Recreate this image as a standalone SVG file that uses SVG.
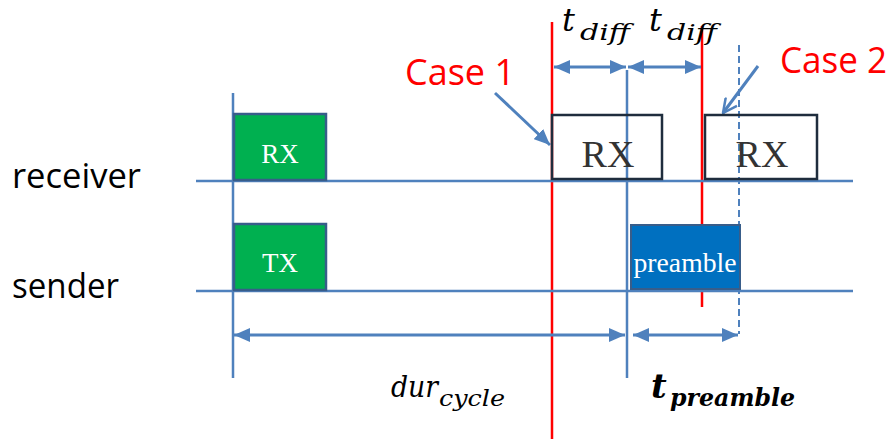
<svg xmlns="http://www.w3.org/2000/svg" width="894" height="439" viewBox="0 0 894 439">
  <style>
    .axis { stroke: #4F81BD; stroke-width: 2.5; fill: none; }
    .dash { stroke: #4F81BD; stroke-width: 2; stroke-dasharray: 7 4; fill: none; }
    .red { stroke: #FF0000; stroke-width: 2.5; fill: none; }
    .dim { stroke: #4F81BD; stroke-width: 3; fill: none; }
    .lbl { font-family: "Open Sans", "Liberation Sans", sans-serif; font-size: 35px; fill: #000; }
    .case { font-family: "Open Sans", "Liberation Sans", sans-serif; font-size: 37px; fill: #FF0000; }
    .math { font-family: "DejaVu Serif", "Liberation Serif", serif; font-style: italic; fill: #000; }
    .boxg { fill: #00B050; stroke: #385D8A; stroke-width: 2.5; }
    .boxw { fill: none; stroke: #1F2D3D; stroke-width: 2.5; }
    .boxb { fill: #0070C0; stroke: #385D8A; stroke-width: 2; }
    .tw { font-family: "Liberation Serif", serif; fill: #FFFFFF; text-anchor: middle; }
    .tk { font-family: "Liberation Serif", serif; fill: #333333; text-anchor: middle; font-size: 38px; }
  </style>
  <defs>
    <marker id="ah" viewBox="0 0 16 14" refX="16" refY="7" markerWidth="16" markerHeight="14" orient="auto-start-reverse" markerUnits="userSpaceOnUse">
      <path d="M0,0 L16,7 L0,14 z" fill="#4F81BD"/>
    </marker>
    <marker id="ahOpen" viewBox="0 0 16 16" refX="15" refY="8" markerWidth="16" markerHeight="16" orient="auto" markerUnits="userSpaceOnUse">
      <path d="M1,1 L15,8 L1,15" fill="none" stroke="#4F81BD" stroke-width="2.5"/>
    </marker>
  </defs>

  <!-- row labels -->
  <text class="lbl" x="12" y="188" textLength="129" lengthAdjust="spacingAndGlyphs">receiver</text>
  <text class="lbl" x="12" y="298" textLength="107" lengthAdjust="spacingAndGlyphs">sender</text>

  <!-- case boundaries (drawn under the boxes) -->
  <g id="case-lines">
    <line class="red" x1="552" y1="22" x2="552" y2="439"/>
    <line class="red" x1="702" y1="26" x2="702" y2="307"/>
  </g>

  <!-- timeline axes and markers -->
  <g id="connectors">
    <line class="axis" x1="196" y1="181" x2="853" y2="181"/>
    <line class="axis" x1="196" y1="291" x2="853" y2="291"/>
    <line class="axis" x1="233" y1="93" x2="233" y2="378"/>
    <line class="axis" x1="627" y1="70" x2="627" y2="378"/>
    <line class="dash" x1="739" y1="45" x2="739" y2="334"/>

    <!-- t_diff dimensions -->
    <line class="dim" x1="554" y1="67" x2="626" y2="67" marker-start="url(#ah)" marker-end="url(#ah)"/>
    <line class="dim" x1="628" y1="67" x2="701" y2="67" marker-start="url(#ah)" marker-end="url(#ah)"/>

    <!-- cycle and preamble dimensions -->
    <line class="dim" x1="234" y1="335" x2="625" y2="335" marker-start="url(#ah)" marker-end="url(#ah)"/>
    <line class="dim" x1="633" y1="335" x2="738" y2="335" marker-start="url(#ah)" marker-end="url(#ah)"/>

    <!-- case pointers -->
    <line class="dim" x1="495" y1="93" x2="550" y2="145" marker-end="url(#ah)"/>
    <line class="dim" x1="758" y1="66" x2="723" y2="113" marker-end="url(#ahOpen)"/>
  </g>

  <!-- nodes -->
  <g id="rx-green">
    <rect class="boxg" x="234" y="114" width="92" height="66"/>
    <text class="tw" x="280" y="163" font-size="27">RX</text>
  </g>
  <g id="tx-green">
    <rect class="boxg" x="234" y="224" width="92" height="66"/>
    <text class="tw" x="280" y="272" font-size="27">TX</text>
  </g>
  <g id="rx-case1">
    <rect class="boxw" x="552" y="115" width="110" height="64"/>
    <text class="tk" x="608" y="167">RX</text>
  </g>
  <g id="rx-case2">
    <rect class="boxw" x="705" y="115" width="112" height="64"/>
    <text class="tk" x="762" y="167">RX</text>
  </g>
  <g id="preamble">
    <rect class="boxb" x="631" y="225" width="109" height="64"/>
    <text class="tw" x="685" y="272" font-size="27" textLength="103" lengthAdjust="spacingAndGlyphs">preamble</text>
  </g>

  <!-- case labels -->
  <text class="case" x="405" y="85" textLength="110" lengthAdjust="spacingAndGlyphs">Case 1</text>
  <text class="case" x="780" y="73" textLength="107" lengthAdjust="spacingAndGlyphs">Case 2</text>

  <!-- math labels -->
  <g id="labels-math">
    <text class="math" x="562" y="31" font-size="32">t</text>
    <text class="math" x="580" y="40" font-size="23" textLength="50" lengthAdjust="spacingAndGlyphs">diff</text>
    <text class="math" x="649" y="31" font-size="32">t</text>
    <text class="math" x="667" y="40" font-size="23" textLength="50" lengthAdjust="spacingAndGlyphs">diff</text>
    <text class="math" x="391" y="397" font-size="29" textLength="47" lengthAdjust="spacingAndGlyphs">dur</text>
    <text class="math" x="439" y="406" font-size="22" textLength="66" lengthAdjust="spacingAndGlyphs">cycle</text>
    <text class="math" x="651" y="398" font-size="34" font-weight="bold">t</text>
    <text class="math" x="670" y="406" font-size="24" font-weight="bold" textLength="125" lengthAdjust="spacingAndGlyphs">preamble</text>
  </g>
</svg>
